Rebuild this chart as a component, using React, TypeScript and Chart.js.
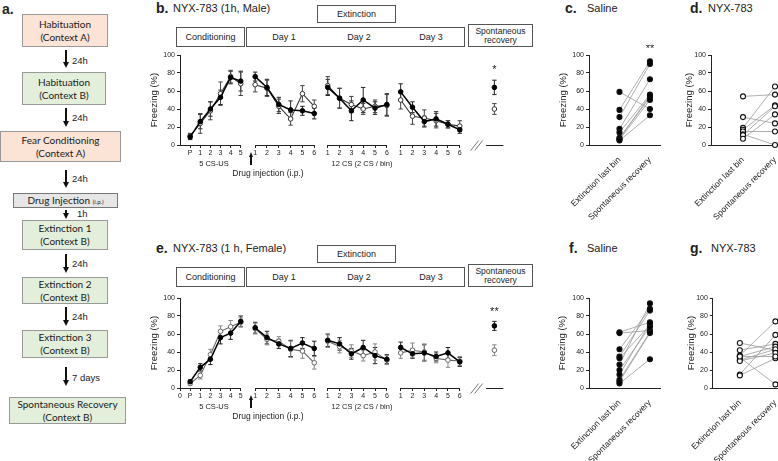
import React, { useEffect, useRef } from "react";
import { Chart, registerables } from "chart.js";
Chart.register(...registerables);

const FONT = "'Liberation Sans', Arial, Helvetica, sans-serif";
const FLOW_FONT = "Lato, 'Open Sans', sans-serif";
Chart.defaults.font.family = FONT;
Chart.defaults.color = "#222";

// ---------------- data ----------------
const condTickLabels = ["P", "1", "2", "3", "4", "5"];
const binTickLabels = ["1", "2", "3", "4", "5", "6"];
const pairLabels = ["Extinction last bin", "Spontaneous recovery"];
const yTickStep = 20;

// Panel b: NYX-783 (1h, Male) — filled = Saline, open = NYX-783
const bSalCond = [9, 26, 40, 53, 75, 71];
const bSalCondErr = [3, 8, 8, 8, 7, 11];
const bNyxCond = [10, 24, 38, 57, 76, 68];
const bNyxCondErr = [3, 11, 10, 13, 7, 13];
const bSalDay1 = [76, 64, 45, 39, 38, 35];
const bSalDay1Err = [5, 9, 8, 10, 5, 6];
const bNyxDay1 = [67, 63, 43, 29, 57, 43];
const bNyxDay1Err = [8, 9, 8, 7, 9, 7];
const bSalDay2 = [64, 52, 38, 50, 41, 45];
const bSalDay2Err = [9, 11, 11, 14, 7, 12];
const bNyxDay2 = [66, 52, 45, 40, 43, 44];
const bNyxDay2Err = [10, 11, 9, 6, 7, 12];
const bSalDay3 = [59, 42, 26, 29, 23, 17];
const bSalDay3Err = [9, 6, 6, 8, 4, 4];
const bNyxDay3 = [50, 32, 30, 27, 23, 21];
const bNyxDay3Err = [10, 9, 9, 8, 4, 6];
const bSalSR = [64];
const bSalSRErr = [8];
const bNyxSR = [40];
const bNyxSRErr = [6];

// Panel e: NYX-783 (1 h, Female)
const eSalCond = [7, 23, 32, 56, 61, 74];
const eSalCondErr = [2, 4, 6, 7, 7, 6];
const eNyxCond = [5, 14, 37, 63, 68, 73];
const eNyxCondErr = [2, 4, 6, 6, 7, 5];
const eSalDay1 = [67, 56, 49, 44, 50, 44];
const eSalDay1Err = [6, 7, 5, 9, 6, 8];
const eNyxDay1 = [66, 54, 52, 43, 41, 28];
const eNyxDay1Err = [6, 6, 5, 9, 8, 7];
const eSalDay2 = [53, 49, 38, 45, 36, 32];
const eSalDay2Err = [7, 7, 6, 8, 9, 5];
const eNyxDay2 = [52, 46, 41, 36, 40, 31];
const eNyxDay2Err = [7, 7, 7, 6, 9, 5];
const eSalDay3 = [45, 38, 39, 35, 39, 29];
const eSalDay3Err = [6, 5, 9, 5, 6, 5];
const eNyxDay3 = [39, 42, 40, 33, 31, 30];
const eNyxDay3Err = [6, 8, 9, 5, 8, 5];
const eSalSR = [69];
const eSalSRErr = [5];
const eNyxSR = [42];
const eNyxSRErr = [6];

// Panels c, d (male) and f, g (female): extinction last bin -> spontaneous recovery
const cSalLast = [59, 39, 31, 18, 14, 8, 7, 6, 5];
const cSalSR = [40, 93, 90, 73, 56, 53, 55, 50, 33];
const dNyxLast = [54, 31, 19, 17, 15, 12, 11, 7];
const dNyxSR = [56, 24, 65, 44, 15, 0, 43, 34];
const fSalLast = [62, 61, 43, 35, 33, 26, 20, 15, 9, 7, 5];
const fSalSR = [73, 64, 88, 86, 70, 94, 68, 72, 62, 61, 32];
const gNyxLast = [50, 42, 36, 35, 34, 31, 30, 15, 14, 35];
const gNyxSR = [42, 49, 74, 46, 4, 43, 39, 59, 33, 35];

// ---------------- layout (x positions in bin units) ----------------
const SEGS = [
  { start: 0.86, step: 0.856 }, // conditioning
  { start: 6.36, step: 1 }, // day 1
  { start: 12.5, step: 1 }, // day 2
  { start: 18.67, step: 1 }, // day 3
  { start: 26.6, step: 1 }, // spontaneous recovery
];
const X_MAX = 27.92;
const BREAK_AT = 25.1;
const SR_LINE = [25.9, 27.36];

// ---------------- plugins ----------------
const errorBarPlugin = {
  id: "errbars",
  beforeDatasetsDraw(chart: any) {
    const ctx = chart.ctx;
    const ys = chart.scales.y;
    chart.data.datasets.forEach((ds: any, di: number) => {
      if (!ds.errs) return;
      const meta = chart.getDatasetMeta(di);
      ctx.save();
      ctx.strokeStyle = ds.errColor;
      ctx.lineWidth = 1;
      meta.data.forEach((pt: any, i: number) => {
        const v = ds.data[i].y;
        const e = ds.errs[i];
        const t = ys.getPixelForValue(v + e);
        const b = ys.getPixelForValue(v - e);
        ctx.beginPath();
        ctx.moveTo(pt.x, t);
        ctx.lineTo(pt.x, b);
        ctx.moveTo(pt.x - 2.2, t);
        ctx.lineTo(pt.x + 2.2, t);
        ctx.moveTo(pt.x - 2.2, b);
        ctx.lineTo(pt.x + 2.2, b);
        ctx.stroke();
      });
      ctx.restore();
    });
  },
};

function starPlugin(text: string, xv: number, yv: number) {
  return {
    id: "stars",
    afterDraw(chart: any) {
      const ctx = chart.ctx;
      ctx.save();
      ctx.fillStyle = "#222";
      ctx.font = `11px ${FONT}`;
      ctx.textAlign = "center";
      ctx.textBaseline = "middle";
      ctx.fillText(text, chart.scales.x.getPixelForValue(xv), chart.scales.y.getPixelForValue(yv));
      ctx.restore();
    },
  };
}

const segAxisPlugin = {
  id: "segaxis",
  afterDraw(chart: any) {
    const ctx = chart.ctx;
    const xs = chart.scales.x;
    const yb = Math.round(chart.chartArea.bottom) + 0.5;
    const px = (v: number) => xs.getPixelForValue(v);
    ctx.save();
    ctx.strokeStyle = "#222";
    ctx.lineWidth = 1;
    ctx.beginPath();
    const c = SEGS[0];
    ctx.moveTo(px(0), yb);
    ctx.lineTo(px(c.start + 5 * c.step), yb);
    for (let s = 1; s <= 3; s++) {
      ctx.moveTo(px(SEGS[s].start), yb);
      ctx.lineTo(px(SEGS[s].start + 5 * SEGS[s].step), yb);
    }
    ctx.moveTo(px(SR_LINE[0]), yb);
    ctx.lineTo(px(SR_LINE[1]), yb);
    const bx = px(BREAK_AT);
    ctx.stroke();
    ctx.strokeStyle = "#777";
    ctx.beginPath();
    for (const off of [-2, 2]) {
      ctx.moveTo(bx + off - 4, yb + 5);
      ctx.lineTo(bx + off + 4, yb - 5);
    }
    ctx.stroke();
    ctx.restore();
  },
};

// ---------------- config builders ----------------
function yAxis(width: number) {
  return {
    min: 0,
    max: 100,
    ticks: { stepSize: yTickStep, font: { size: 7 }, color: "#222", padding: 2 },
    grid: { drawOnChartArea: false, tickLength: 3, color: "#222" },
    border: { color: "#222", width: 1 },
    title: {
      display: true,
      text: "Freezing (%)",
      font: { size: 9.5 },
      color: "#222",
      padding: { top: 3, bottom: 0 },
    },
    afterFit: (s: any) => {
      s.width = width;
    },
  };
}

function seriesDatasets(vals: number[][], errs: number[][], filled: boolean, lineColor: string, errColor: string) {
  return vals.map((arr, si) => ({
    data: arr.map((v, i) => ({ x: SEGS[si].start + i * SEGS[si].step, y: v })),
    errs: errs[si],
    errColor,
    borderColor: lineColor,
    borderWidth: filled ? 1.5 : 1.1,
    pointRadius: 2.3,
    pointBorderWidth: 1,
    pointBackgroundColor: filled ? "#000" : "#fff",
    pointBorderColor: filled ? "#000" : lineColor,
    showLine: true,
    tension: 0,
    clip: false,
  }));
}

function timeCourseConfig(o: any) {
  const tickPos: number[] = [];
  const tickLbl: string[] = [];
  if (o.zeroTick) {
    tickPos.push(0);
    tickLbl.push("0");
  }
  condTickLabels.forEach((l, i) => {
    tickPos.push(SEGS[0].start + i * SEGS[0].step);
    tickLbl.push(l);
  });
  for (let s = 1; s <= 3; s++) {
    binTickLabels.forEach((l, i) => {
      tickPos.push(SEGS[s].start + i * SEGS[s].step);
      tickLbl.push(l);
    });
  }
  return {
    type: "scatter",
    data: {
      datasets: [
        ...seriesDatasets(o.sal, o.salErr, true, "#000", "#222"),
        ...seriesDatasets(o.nyx, o.nyxErr, false, o.nyxColor, o.nyxErrColor),
      ],
    },
    options: {
      animation: false,
      responsive: false,
      layout: { padding: { top: 10, left: 0, right: 0, bottom: 0 } },
      plugins: { legend: { display: false }, tooltip: { enabled: false } },
      scales: {
        x: {
          type: "linear",
          min: 0,
          max: X_MAX,
          afterBuildTicks: (s: any) => {
            s.ticks = tickPos.map((v) => ({ value: v }));
          },
          ticks: {
            autoSkip: false,
            maxRotation: 0,
            minRotation: 0,
            font: { size: 7 },
            color: "#222",
            padding: 1,
            callback: (_v: any, i: number) => tickLbl[i],
          },
          grid: { drawOnChartArea: false, tickLength: 3, color: "#222" },
          border: { display: false },
          afterFit: (s: any) => {
            s.height = 20;
          },
        },
        y: yAxis(34),
      },
    },
    plugins: [errorBarPlugin, segAxisPlugin, starPlugin(o.star, SEGS[4].start, o.starY)],
  };
}

function pairConfig(o: any) {
  const lines = o.left.map((l: number, i: number) => ({
    data: [
      { x: 1, y: l },
      { x: 2, y: o.right[i] },
    ],
    borderColor: "#9a9a9a",
    borderWidth: 0.8,
    pointRadius: 0,
    showLine: true,
    order: 5,
    clip: false,
  }));
  const pts = [
    ...o.left.map((v: number) => ({ x: 1, y: v })),
    ...o.right.map((v: number) => ({ x: 2, y: v })),
  ];
  return {
    type: "scatter",
    data: {
      datasets: [
        {
          data: pts,
          pointRadius: 2.5,
          pointBorderWidth: 1.1,
          pointBackgroundColor: o.filled ? "#000" : "#fff",
          pointBorderColor: "#111",
          showLine: false,
          order: 0,
          clip: false,
        },
        ...lines,
      ],
    },
    options: {
      animation: false,
      responsive: false,
      layout: { padding: { top: 10, left: 0, right: 8, bottom: 0 } },
      plugins: { legend: { display: false }, tooltip: { enabled: false } },
      scales: {
        x: {
          type: "linear",
          min: o.xmin,
          max: o.xmax,
          afterBuildTicks: (s: any) => {
            s.ticks = [{ value: 1 }, { value: 2 }];
          },
          ticks: {
            autoSkip: false,
            maxRotation: 45,
            minRotation: 45,
            font: { size: 8.5 },
            color: "#222",
            padding: 2,
            callback: (_v: any, i: number) => pairLabels[i],
          },
          grid: { display: false },
          border: { display: true, color: "#222", width: 1 },
          afterFit: (s: any) => {
            s.height = 85;
          },
        },
        y: yAxis(o.yWidth),
      },
    },
    plugins: o.star ? [starPlugin(o.star, 2, o.starY)] : [],
  };
}

// ---------------- components ----------------
function ChartCanvas({ left, top, width, height, config }: any) {
  const ref = useRef<HTMLCanvasElement>(null);
  useEffect(() => {
    const chart = new Chart(ref.current as HTMLCanvasElement, config() as any);
    return () => chart.destroy();
  }, []);
  return (
    <canvas
      ref={ref}
      width={width}
      height={height}
      style={{ position: "absolute", left, top, width, height, display: "block" }}
    />
  );
}

const C = ({ cx, cy, size, children, bold, family, color, lh }: any) => (
  <div
    style={{
      position: "absolute",
      left: cx,
      top: cy,
      transform: "translate(-50%, -50%)",
      fontSize: size,
      fontWeight: bold ? 700 : 400,
      fontFamily: family || FONT,
      color: color || "#222",
      whiteSpace: "nowrap",
      textAlign: "center",
      lineHeight: lh ? `${lh}px` : "normal",
    }}
  >
    {children}
  </div>
);

const L = ({ x, cy, size, children, bold, family, color }: any) => (
  <div
    style={{
      position: "absolute",
      left: x,
      top: cy,
      transform: "translateY(-50%)",
      fontSize: size,
      fontWeight: bold ? 700 : 400,
      fontFamily: family || FONT,
      color: color || "#222",
      whiteSpace: "nowrap",
    }}
  >
    {children}
  </div>
);

const Box = ({ x, y, w, h, bg, border, children, size, family, lh, color }: any) => (
  <div
    style={{
      position: "absolute",
      left: x,
      top: y,
      width: w,
      height: h,
      boxSizing: "border-box",
      background: bg || "#fff",
      border: `1px solid ${border || "#555"}`,
      display: "flex",
      alignItems: "center",
      justifyContent: "center",
      textAlign: "center",
      fontSize: size || 9,
      fontFamily: family || FONT,
      color: color || "#222",
      lineHeight: lh ? `${lh}px` : "normal",
      whiteSpace: "nowrap",
    }}
  >
    <div>{children}</div>
  </div>
);

const ArrowDown = ({ x, y1, y2 }: any) => (
  <>
    <div style={{ position: "absolute", left: x - 0.9, top: y1, width: 1.8, height: y2 - y1 - 5, background: "#111" }} />
    <div
      style={{
        position: "absolute",
        left: x - 3.5,
        top: y2 - 6,
        width: 0,
        height: 0,
        borderLeft: "3.5px solid transparent",
        borderRight: "3.5px solid transparent",
        borderTop: "6px solid #111",
      }}
    />
  </>
);

const ArrowUp = ({ x, y1, y2 }: any) => (
  <>
    <div style={{ position: "absolute", left: x - 0.6, top: y1 + 5, width: 1.2, height: y2 - y1 - 5, background: "#111" }} />
    <div
      style={{
        position: "absolute",
        left: x - 2.5,
        top: y1,
        width: 0,
        height: 0,
        borderLeft: "2.5px solid transparent",
        borderRight: "2.5px solid transparent",
        borderBottom: "5px solid #111",
      }}
    />
  </>
);

const PEACH = "#fbe3d6";
const GREEN = "#e3efdb";
const GREY = "#e6e6e6";

function Flow() {
  const fb = { family: FLOW_FONT, size: 10, lh: 13, color: "#1a1a1a" };
  return (
    <>
      <L x={2} cy={9} size={14} bold>a.</L>
      <Box x={22} y={14} w={86} h={33} bg={PEACH} border="#999" {...fb}>Habituation<br />(Context A)</Box>
      <ArrowDown x={66} y1={50} y2={68} />
      <L x={72} cy={60} size={9.5}>24h</L>
      <Box x={22} y={72} w={84} h={33} bg={GREEN} border="#999" {...fb}>Habituation<br />(Context B)</Box>
      <ArrowDown x={66} y1={108} y2={127} />
      <L x={72} cy={117} size={9.5}>24h</L>
      <Box x={0} y={131} w={121} h={31} bg={PEACH} border="#999" {...fb}>Fear Conditioning<br />(Context A)</Box>
      <ArrowDown x={66} y1={170} y2={188} />
      <L x={72} cy={178} size={9.5}>24h</L>
      <Box x={13} y={193} w={105} h={15} bg={GREY} border="#777" {...fb}>
        Drug Injection <span style={{ fontSize: 6 }}>(i.p.)</span>
      </Box>
      <ArrowDown x={66} y1={210} y2={219} />
      <L x={77} cy={213} size={9.5}>1h</L>
      <Box x={22} y={220} w={86} h={30} bg={GREEN} border="#999" {...fb}>Extinction 1<br />(Context B)</Box>
      <ArrowDown x={66} y1={254} y2={273} />
      <L x={72} cy={263} size={9.5}>24h</L>
      <Box x={22} y={277} w={86} h={27} bg={GREEN} border="#999" {...fb}>Extinction 2<br />(Context B)</Box>
      <ArrowDown x={66} y1={307} y2={326} />
      <L x={72} cy={316} size={9.5}>24h</L>
      <Box x={22} y={330} w={86} h={28} bg={GREEN} border="#999" {...fb}>Extinction 3<br />(Context B)</Box>
      <ArrowDown x={66} y1={367} y2={386} />
      <L x={72} cy={377} size={9.5}>7 days</L>
      <Box x={9} y={397} w={117} h={27} bg={GREEN} border="#999" {...fb}>Spontaneous Recovery<br />(Context B)</Box>
    </>
  );
}

function TimeCourseHeader({ top, letter, title }: any) {
  return (
    <>
      <L x={156} cy={top} size={14} bold>{letter}</L>
      <L x={173} cy={top} size={11}>{title}</L>
      <Box x={317} y={top - 3} w={79} h={18} size={9}>Extinction</Box>
      <Box x={176} y={top + 19} w={69} h={20} size={9}>Conditioning</Box>
      <Box x={246} y={top + 19} w={219} h={20} size={9}> </Box>
      <C cx={284} cy={top + 29} size={9}>Day 1</C>
      <C cx={359} cy={top + 29} size={9}>Day 2</C>
      <C cx={431} cy={top + 29} size={9}>Day 3</C>
      <Box x={468} y={top + 16} w={65} h={23} size={8.5} lh={8.5}>Spontaneous<br />recovery</Box>
    </>
  );
}

function TimeCourseFooter({ axisY }: any) {
  return (
    <>
      <C cx={214} cy={axisY + 18} size={7.5}>5 CS-US</C>
      <C cx={362} cy={axisY + 18} size={7.5}>12 CS (2 CS / bin)</C>
      <C cx={268} cy={axisY + 28} size={8.5}>Drug injection (i.p.)</C>
      <ArrowUp x={251} y1={axisY + 7} y2={axisY + 20} />
    </>
  );
}

export default function App() {
  return (
    <div style={{ position: "absolute", left: 0, top: 0, width: 778, height: 461, overflow: "hidden", background: "#fff" }}>
      <Flow />

      {/* panel b */}
      <TimeCourseHeader top={8} letter="b." title="NYX-783 (1h, Male)" />
      <ChartCanvas
        left={146}
        top={45}
        width={369}
        height={120}
        config={() =>
          timeCourseConfig({
            sal: [bSalCond, bSalDay1, bSalDay2, bSalDay3, bSalSR],
            salErr: [bSalCondErr, bSalDay1Err, bSalDay2Err, bSalDay3Err, bSalSRErr],
            nyx: [bNyxCond, bNyxDay1, bNyxDay2, bNyxDay3, bNyxSR],
            nyxErr: [bNyxCondErr, bNyxDay1Err, bNyxDay2Err, bNyxDay3Err, bNyxSRErr],
            nyxColor: "#333",
            nyxErrColor: "#444",
            zeroTick: false,
            star: "*",
            starY: 83,
          })
        }
      />
      <TimeCourseFooter axisY={145} />

      {/* panel e */}
      <TimeCourseHeader top={248} letter="e." title="NYX-783 (1 h, Female)" />
      <ChartCanvas
        left={146}
        top={288}
        width={369}
        height={120}
        config={() =>
          timeCourseConfig({
            sal: [eSalCond, eSalDay1, eSalDay2, eSalDay3, eSalSR],
            salErr: [eSalCondErr, eSalDay1Err, eSalDay2Err, eSalDay3Err, eSalSRErr],
            nyx: [eNyxCond, eNyxDay1, eNyxDay2, eNyxDay3, eNyxSR],
            nyxErr: [eNyxCondErr, eNyxDay1Err, eNyxDay2Err, eNyxDay3Err, eNyxSRErr],
            nyxColor: "#666",
            nyxErrColor: "#888",
            zeroTick: true,
            star: "**",
            starY: 85,
          })
        }
      />
      <TimeCourseFooter axisY={388} />

      {/* panel c */}
      <L x={565} cy={8} size={14} bold>c.</L>
      <L x={587} cy={8} size={11}>Saline</L>
      <ChartCanvas
        left={555}
        top={45}
        width={113}
        height={185}
        config={() =>
          pairConfig({ left: cSalLast, right: cSalSR, filled: true, xmin: 0, xmax: 2.33, yWidth: 34, star: "**", starY: 107 })
        }
      />

      {/* panel d */}
      <L x={690} cy={8} size={14} bold>d.</L>
      <L x={708} cy={8} size={11}>NYX-783</L>
      <ChartCanvas
        left={681}
        top={45}
        width={113}
        height={185}
        config={() => pairConfig({ left: dNyxLast, right: dNyxSR, filled: false, xmin: 0, xmax: 2.344, yWidth: 30 })}
      />

      {/* panel f */}
      <L x={569} cy={248} size={14} bold>f.</L>
      <L x={587} cy={248} size={11}>Saline</L>
      <ChartCanvas
        left={554}
        top={288}
        width={114}
        height={185}
        config={() =>
          pairConfig({ left: fSalLast, right: fSalSR, filled: true, xmin: 0, xmax: 2.33, yWidth: 35, star: "***", starY: 112 })
        }
      />

      {/* panel g */}
      <L x={690} cy={248} size={14} bold>g.</L>
      <L x={711} cy={248} size={11}>NYX-783</L>
      <ChartCanvas
        left={680}
        top={288}
        width={114}
        height={185}
        config={() => pairConfig({ left: gNyxLast, right: gNyxSR, filled: false, xmin: 0.243, xmax: 2.297, yWidth: 30 })}
      />
    </div>
  );
}
